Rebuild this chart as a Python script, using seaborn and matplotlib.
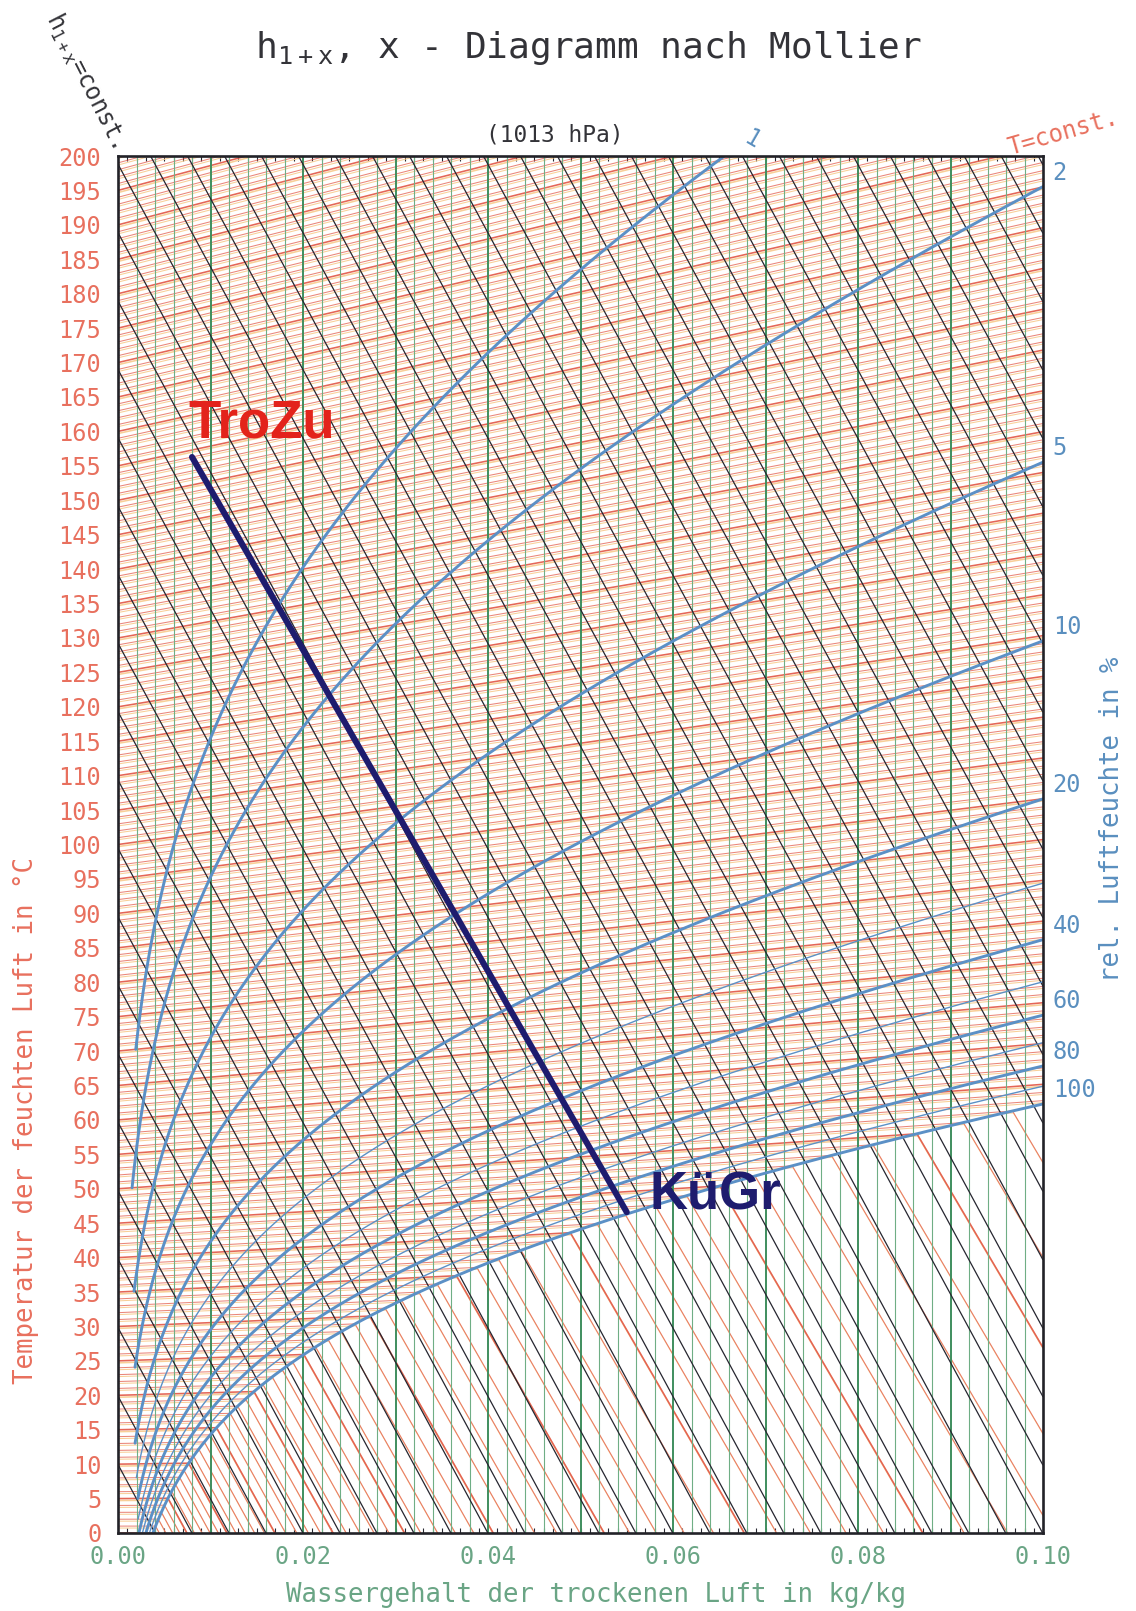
import numpy as np
import pandas as pd
import matplotlib
matplotlib.use("Agg")
import matplotlib.pyplot as plt
import matplotlib.patheffects as pe
from matplotlib.collections import LineCollection
import seaborn as sns

# ---------------------------------------------------------------- values
P_TOTAL = 1013.0                      # hPa
temp_ticks = list(range(0, 201, 5))   # °C, left scale
x_ticks = [0.00, 0.02, 0.04, 0.06, 0.08, 0.10]
isotherm_temps = list(range(0, 201))            # T = const, every 1 °C
enthalpy_levels = list(range(10, 460, 10))      # h = const, kJ/kg
water_lines_thin = [0.002, 0.004, 0.006, 0.008, 0.012, 0.014, 0.016, 0.018,
                    0.022, 0.024, 0.026, 0.028, 0.032, 0.034, 0.036, 0.038,
                    0.042, 0.044, 0.046, 0.048, 0.052, 0.054, 0.056, 0.058,
                    0.062, 0.064, 0.066, 0.068, 0.072, 0.074, 0.076, 0.078,
                    0.082, 0.084, 0.086, 0.088, 0.092, 0.094, 0.096, 0.098]
water_lines_bold = [0.01, 0.02, 0.03, 0.04, 0.05, 0.06, 0.07, 0.08, 0.09]
rh_levels = [1, 2, 5, 10, 20, 30, 40, 50, 60, 70, 80, 90, 100]       # %
rh_start_temp = [70, 50, 35, 24, 13, 8, 5, 2, 0, 0, 0, 0, 0]        # °C
rh_bold = [1, 2, 5, 10, 20, 40, 60, 80, 100]
rh_labels = ["1", "2", "5", "10", "20", "40", "60", "80", "100"]
process_x = [0.008, 0.055]            # kg/kg
process_t = [154.0, 42.3]             # °C
process_names = ["TroZu", "KüGr"]

# ------------------------------------------------------- thermodynamics
CPA, CPV, R0, CW = 1.006, 1.86, 2501.0, 4.19


def p_sat(t):
    """Saturation pressure of water in hPa (IAPWS-IF97, region 4)."""
    n = [0.11670521452767e4, -0.72421316598642e6, -0.17073846940092e2,
         0.12020824702470e5, -0.32325550322333e7, 0.14915108613530e2,
         -0.48232657361591e4, 0.40511340542057e6, -0.23855557567849,
         0.65017534844798e3]
    T = np.asarray(t, dtype=float) + 273.15
    th = T + n[8] / (T - n[9])
    A = th ** 2 + n[0] * th + n[1]
    B = n[2] * th ** 2 + n[3] * th + n[4]
    C = n[5] * th ** 2 + n[6] * th + n[7]
    return (2 * C / (-B + np.sqrt(B ** 2 - 4 * A * C))) ** 4 * 1e4


def x_sat(t, phi=1.0):
    pv = phi * p_sat(t)
    with np.errstate(divide="ignore", invalid="ignore"):
        return np.where(pv < P_TOTAL, 0.622 * pv / (P_TOTAL - pv), np.inf)


def chart_y(t, x):
    """Oblique Mollier ordinate (0 °C isotherm horizontal)."""
    return np.asarray(t) * (1.0 + CPV / CPA * np.asarray(x))


# ------------------------------------------------------------- styling
sns.set_theme(style="white")
plt.rcParams["font.family"] = ["DejaVu Sans Mono", "DejaVu Sans"]
plt.rcParams["mathtext.fontset"] = "custom"
plt.rcParams["mathtext.rm"] = "DejaVu Sans Mono"
plt.rcParams["mathtext.default"] = "rm"

RED, RED_TXT, GHOST = "#e35e4e", "#e8705e", "#f8cf98"
GREEN, GREEN_B, GREEN_TXT = "#6fae85", "#3f8e5e", "#6aa585"
BLACK = "#262630"
BLUE, BLUE_TXT = "#5b90c6", "#5a8fbf"
NAVY = "#1e1c6e"

fig = plt.figure(figsize=(11.36, 16.11), dpi=100)
ax = fig.add_axes([118 / 1136, 1 - 1533 / 1611, 925 / 1136, 1377 / 1611])
ax.set_xlim(0, 0.1)
ax.set_ylim(0, 200)
ax.set_facecolor("white")

XMAX = 0.1

# isotherms: unsaturated part plus fog part
iso_thin, iso_bold = [], []
for t in isotherm_temps:
    xs = float(x_sat(t))
    x_end = min(xs, XMAX)
    segs = [[(0.0, chart_y(t, 0.0)), (x_end, chart_y(t, x_end))]]
    if xs < XMAX:
        ys = chart_y(t, xs)
        slope = (CW * t - R0) / CPA
        segs.append([(xs, ys), (XMAX, ys + slope * (XMAX - xs))])
    (iso_bold if t % 5 == 0 else iso_thin).extend(segs)

ghost = [pe.SimpleLineShadow(offset=(0.6, -1.4), shadow_color=GHOST, alpha=1.0),
         pe.Normal()]
lc = LineCollection(iso_thin, colors=RED, linewidths=0.75, alpha=0.75, zorder=1)
lc.set_path_effects(ghost)
ax.add_collection(lc)
lc = LineCollection(iso_bold, colors=RED, linewidths=1.15, alpha=0.95, zorder=1.1)
lc.set_path_effects(ghost)
ax.add_collection(lc)

# lines of constant water content
for xv in water_lines_thin:
    ax.axvline(xv, color=GREEN, lw=0.8, zorder=2)
for xv in water_lines_bold:
    ax.axvline(xv, color=GREEN_B, lw=1.4, zorder=2)

# lines of constant enthalpy
h_segs = [[(0.0, h / CPA), (XMAX, (h - R0 * XMAX) / CPA)] for h in enthalpy_levels]
ax.add_collection(LineCollection(h_segs, colors=BLACK, linewidths=0.9, zorder=3))

# relative humidity curves
rows = []
for phi, t0 in zip(rh_levels, rh_start_temp):
    tt = np.arange(t0, 200.01, 0.2)
    xx = x_sat(tt, phi / 100.0)
    keep = np.isfinite(xx) & (xx <= 0.115)
    tt, xx = tt[keep], xx[keep]
    yy = chart_y(tt, xx)
    keep = yy <= 215
    for a, b in zip(xx[keep], yy[keep]):
        rows.append({"rh": phi, "x": a, "y": b, "bold": phi in rh_bold})
rh_df = pd.DataFrame(rows)

sns.lineplot(data=rh_df[~rh_df["bold"]], x="x", y="y", units="rh",
             estimator=None, sort=False, color=BLUE, lw=1.0, ax=ax,
             legend=False, zorder=4)
sns.lineplot(data=rh_df[rh_df["bold"]], x="x", y="y", units="rh",
             estimator=None, sort=False, color=BLUE, lw=2.1, ax=ax,
             legend=False, zorder=4.1)

# curve labels at the chart border
for lab in rh_labels:
    c = rh_df[rh_df["rh"] == int(lab)]
    if c["y"].max() > 200 and np.interp(200, c["y"], c["x"]) < XMAX:
        x_top = np.interp(200, c["y"], c["x"])
        ax.annotate(lab, (x_top, 200), xytext=(20, 12), textcoords="offset points",
                    color=BLUE_TXT, fontsize=17, ha="center", va="center",
                    rotation=-30, annotation_clip=False)
    else:
        y_edge = np.interp(XMAX, c["x"], c["y"])
        ax.annotate(lab, (XMAX, y_edge), xytext=(7, 10), textcoords="offset points",
                    color=BLUE_TXT, fontsize=17, ha="left", va="center",
                    annotation_clip=False)

# process: dryer inlet to cooling limit
proc = pd.DataFrame({"x": process_x,
                     "y": chart_y(np.array(process_t), np.array(process_x))})
sns.lineplot(data=proc, x="x", y="y", sort=False, color=NAVY, lw=4.4, ax=ax,
             zorder=6, legend=False)
ax.annotate(process_names[0], (proc["x"][0], proc["y"][0]), xytext=(50, 24),
            textcoords="offset points", color="#e3231b", fontsize=38,
            fontweight="bold", family="Liberation Sans", ha="center", va="center",
            zorder=7)
ax.annotate(process_names[1], (proc["x"][1], proc["y"][1]), xytext=(64, 12),
            textcoords="offset points", color=NAVY, fontsize=38,
            fontweight="bold", family="Liberation Sans", ha="center", va="center",
            zorder=7)

# axes, ticks, frame
ax.set_xticks(x_ticks)
ax.set_xticklabels([f"{v:.2f}" for v in x_ticks])
ax.set_yticks(temp_ticks)
ax.set_yticklabels([str(v) for v in temp_ticks])
ax.set_xticks(np.arange(0, 0.1001, 0.001), minor=True)
ax.tick_params(axis="x", which="major", length=0, pad=9, labelsize=17,
               labelcolor=GREEN_TXT)
ax.tick_params(axis="x", which="minor", direction="in", length=3.5, width=0.8,
               color=BLACK, top=True, bottom=True)
ax.tick_params(axis="y", which="major", length=0, pad=12, labelsize=17,
               labelcolor=RED_TXT)
for s in ax.spines.values():
    s.set_color("#222228")
    s.set_linewidth(1.9)
    s.set_zorder(8)
ax.set_xlabel("")
ax.set_ylabel("")

# titles and axis captions
fig.text(0.5176, 1 - 48 / 1611, "h$_{1+x}$, x - Diagramm nach Mollier",
         fontsize=26, color="#333338", ha="center", va="center")
fig.text(0.4886, 1 - 135 / 1611, "(1013 hPa)", fontsize=16.5, color="#333338",
         ha="center", va="center")
fig.text(86 / 1136, 1 - 80 / 1611, "h$_{1+x}$=const.", fontsize=17, color="#333338",
         ha="center", va="center", rotation=-63)
fig.text(1063 / 1136, 1 - 133 / 1611, "T=const.", fontsize=17, color=RED_TXT,
         ha="center", va="center", rotation=16)
fig.text(26 / 1136, 1 - 1120 / 1611, "Temperatur der feuchten Luft in °C",
         fontsize=18.5, color=RED_TXT, ha="center", va="center", rotation=90)
fig.text(1112 / 1136, 1 - 819 / 1611, "rel. Luftfeuchte in %", fontsize=18.5,
         color=BLUE_TXT, ha="center", va="center", rotation=90)
fig.text(596 / 1136, 1 - 1595 / 1611, "Wassergehalt der trockenen Luft in kg/kg",
         fontsize=18.5, color=GREEN_TXT, ha="center", va="center")

fig.savefig("out.png", dpi=100, facecolor="white")
